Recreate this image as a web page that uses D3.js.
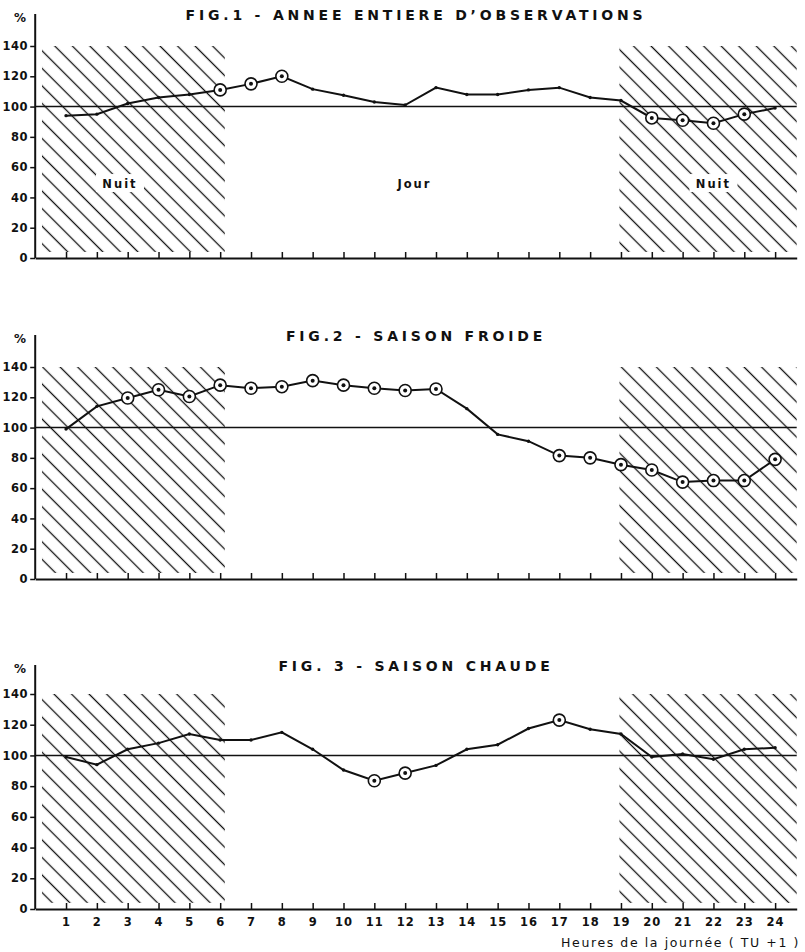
<!DOCTYPE html>
<html>
<head>
<meta charset="utf-8">
<script src="https://cdn.jsdelivr.net/npm/d3@7"></script>
<style>
  body { margin: 0; background: #fff; }
  svg { display: block; }
  .axis text { font-family: 'DejaVu Sans', sans-serif; font-weight: bold; font-size: 11.5px; fill: #111; }
  .axis line, .axis path { stroke: #111; }
</style>
</head>
<body>
<script>
const hours = d3.range(1, 25);
const yTicks = [0, 20, 40, 60, 80, 100, 120, 140];

const titles = [
  'FIG.1 - ANNEE ENTIERE D\u2019OBSERVATIONS',
  'FIG.2 - SAISON FROIDE',
  'FIG. 3 - SAISON CHAUDE'
];

// valeurs horaires en % de la moyenne
const fig1Values = [94, 95, 102, 106, 108, 111, 115, 120, 111.5, 107.5, 103, 101,
  112.5, 108, 108, 111, 112.5, 106, 104, 92.5, 91, 89, 95, 99];
const fig2Values = [99, 114, 119.5, 125, 120.5, 128, 126, 127, 131, 128, 126, 124.5,
  125.5, 112.5, 95.5, 91, 81.5, 80, 75.5, 72, 64, 65, 65, 79];
const fig3Values = [99, 94, 104, 108, 114, 110, 110, 115, 104, 90.5, 83.5, 88.5,
  93.5, 104, 107, 117.5, 123, 117, 114, 99, 101, 97.5, 104, 105];

// heures marquées d'un cercle
const fig1Circled = [6, 7, 8, 20, 21, 22, 23];
const fig2Circled = [3, 4, 5, 6, 7, 8, 9, 10, 11, 12, 13, 17, 18, 19, 20, 21, 22, 23, 24];
const fig3Circled = [11, 12, 17];

// bandes de nuit (heures)
const nightBands = [[0.22, 6.15], [18.95, 24.7]];
const dayLabels = [{h: 2.75, text: 'Nuit'}, {h: 12.3, text: 'Jour'}, {h: 22, text: 'Nuit'}];

const panels = [
  {title: titles[0], values: fig1Values, circled: fig1Circled, base: 258, h: 212},
  {title: titles[1], values: fig2Values, circled: fig2Circled, base: 579, h: 212},
  {title: titles[2], values: fig3Values, circled: fig3Circled, base: 909, h: 215}
];

const width = 805;
const height = 952;

const svg = d3.select('body').append('svg')
    .attr('width', width)
    .attr('height', height);

const sp = 12.4;
svg.append('defs').append('pattern')
    .attr('id', 'hatch')
    .attr('patternUnits', 'userSpaceOnUse')
    .attr('width', sp)
    .attr('height', sp)
    .attr('patternTransform', 'rotate(-45)')
    .append('line')
    .attr('x1', sp / 2).attr('y1', 0)
    .attr('x2', sp / 2).attr('y2', sp)
    .attr('stroke', '#111')
    .attr('stroke-width', 1.3);

const x = d3.scaleLinear()
    .domain([0, 24.7])
    .range([35.2, 796.7]);

panels.forEach(function(p, i) {
  const y = d3.scaleLinear()
      .domain([0, 140])
      .range([p.base, p.base - p.h]);

  const g = svg.append('g');
  const data = hours.map(function(h, j) { return {h: h, v: p.values[j], c: p.circled.includes(h)}; });

  // hachures nuit
  g.selectAll('.night').data(nightBands)
    .enter().append('rect')
      .attr('class', 'night')
      .attr('x', d => x(d[0]))
      .attr('width', d => x(d[1]) - x(d[0]))
      .attr('y', y(140))
      .attr('height', y(4) - y(140))
      .attr('fill', 'url(#hatch)');

  if (i === 0) {
    const lab = g.selectAll('.lab').data(dayLabels).enter().append('g').attr('class', 'lab');
    lab.append('rect')
      .attr('x', d => x(d.h) - 24)
      .attr('y', y(49.5) - 9)
      .attr('width', 48)
      .attr('height', 18)
      .attr('fill', d => d.text === 'Jour' ? 'none' : '#fff');
    lab.append('text')
      .attr('x', d => x(d.h))
      .attr('y', y(49.5) + 4.5)
      .attr('text-anchor', 'middle')
      .style('font-family', "'DejaVu Sans', sans-serif")
      .style('font-weight', 'bold')
      .style('font-size', '11.5px')
      .style('letter-spacing', '2px')
      .style('fill', '#111')
      .text(d => d.text);
  }

  // ligne 100 %
  g.append('line')
    .attr('x1', x(0)).attr('x2', x(24.7))
    .attr('y1', y(100)).attr('y2', y(100))
    .attr('stroke', '#111')
    .attr('stroke-width', 1.4);

  // axes
  g.append('g')
    .attr('class', 'axis')
    .attr('transform', `translate(${x(0)},0)`)
    .call(d3.axisLeft(y).tickValues(yTicks).tickSize(5).tickPadding(2))
    .call(a => a.select('.domain').remove())
    .call(a => a.selectAll('line').attr('stroke-width', 1.5))
    .call(a => a.selectAll('text').style('letter-spacing', '0.6px'));

  g.append('line')
    .attr('x1', x(0)).attr('x2', x(0))
    .attr('y1', y(0)).attr('y2', y(0) - 244)
    .attr('stroke', '#111')
    .attr('stroke-width', 2);

  g.append('text')
    .attr('x', 20)
    .attr('y', y(0) - 236)
    .attr('text-anchor', 'middle')
    .style('font-family', "'DejaVu Sans', sans-serif")
    .style('font-weight', 'bold')
    .style('font-size', '12px')
    .style('fill', '#111')
    .text('%');

  g.append('g')
    .attr('class', 'axis')
    .attr('transform', `translate(0,${y(0)})`)
    .call(d3.axisBottom(x).tickValues(hours).tickSizeInner(-6).tickSizeOuter(0).tickPadding(9)
      .tickFormat(i === 2 ? d3.format('d') : () => ''))
    .call(a => a.select('.domain').attr('stroke-width', 2))
    .call(a => a.selectAll('line').attr('stroke-width', 1.5))
    .call(a => a.selectAll('text').style('letter-spacing', '1px'));

  // titre
  g.append('text')
    .attr('x', 416)
    .attr('y', y(0) - 238)
    .attr('text-anchor', 'middle')
    .style('font-family', "'DejaVu Sans', sans-serif")
    .style('font-weight', 'bold')
    .style('font-size', '14px')
    .style('letter-spacing', '3.8px')
    .style('fill', '#111')
    .text(p.title);

  // courbe
  const line = d3.line()
      .x(d => x(d.h))
      .y(d => y(d.v));

  g.append('path')
    .datum(data)
    .attr('d', line)
    .attr('fill', 'none')
    .attr('stroke', '#111')
    .attr('stroke-width', 2);

  g.selectAll('.ring').data(data.filter(d => d.c))
    .enter().append('circle')
      .attr('class', 'ring')
      .attr('cx', d => x(d.h))
      .attr('cy', d => y(d.v))
      .attr('r', 6)
      .attr('fill', '#fff')
      .attr('stroke', '#111')
      .attr('stroke-width', 1.6);

  g.selectAll('.dot').data(data)
    .enter().append('circle')
      .attr('class', 'dot')
      .attr('cx', d => x(d.h))
      .attr('cy', d => y(d.v))
      .attr('r', d => d.c ? 2 : 1.7)
      .attr('fill', '#111');
});

svg.append('text')
  .attr('x', 800)
  .attr('y', 947)
  .attr('text-anchor', 'end')
  .style('font-family', "'DejaVu Sans', sans-serif")
  .style('font-size', '12.5px')
  .style('letter-spacing', '1.6px')
  .style('fill', '#111')
  .text('Heures de la journée ( TU +1 )');
</script>
</body>
</html>
